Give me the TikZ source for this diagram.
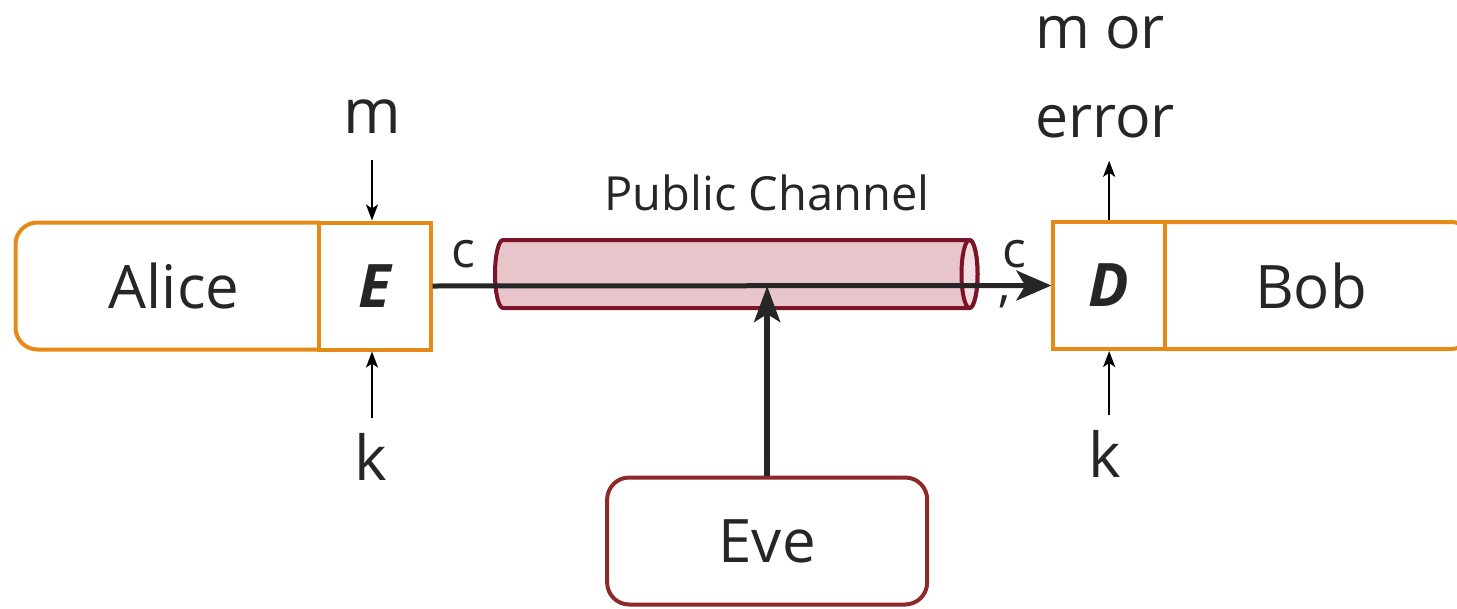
\documentclass[tikz,border=0pt]{standalone}
\usepackage{fontspec}
\setmainfont{Open Sans}
\usetikzlibrary{arrows.meta}

\definecolor{boxorange}{HTML}{E58A16}
\definecolor{ink}{HTML}{262626}
\definecolor{chanline}{HTML}{7B1426}
\definecolor{chanfill}{HTML}{E8C4CB}
\definecolor{capfill}{HTML}{F2DEE2}
\definecolor{evered}{HTML}{8E2A2A}

\begin{document}
\begin{tikzpicture}[
  x=1pt, y=1pt,
  part/.style={inner sep=0pt, outer sep=0pt, text=ink,
    font=\fontsize{60}{72}\selectfont},
  cell/.style={draw=boxorange, line width=4pt, inner sep=0pt, text=ink,
    font=\fontsize{60}{72}\selectfont\bfseries\itshape},
  outline/.style={draw=boxorange, line width=4pt, rounded corners=22pt},
  lbl/.style={inner sep=0pt, text=ink, font=\fontsize{62}{74}\selectfont},
  smalllbl/.style={inner sep=0pt, text=ink, font=\fontsize{50}{60}\selectfont},
  thinarrow/.style={draw=black, line width=2.5pt,
    -{Stealth[length=16pt, width=12pt, inset=4pt]}},
  mainarrow/.style={draw=ink, line width=5pt,
    -{Stealth[length=35pt, width=30pt, inset=9pt]}},
  evearrow/.style={draw=ink, line width=5.5pt,
    -{Stealth[length=36pt, width=26pt, inset=8pt]}}
]
\useasboundingbox (0,0) rectangle (1457,-608);

% public channel drawn as a horizontal cylinder
\path[draw=chanline, fill=chanfill, line width=4pt]
  (969.5,-240) -- (503,-240)
  arc[start angle=90, end angle=270, x radius=8pt, y radius=34pt]
  -- (969.5,-308)
  arc[start angle=270, end angle=450, x radius=8pt, y radius=34pt]
  -- cycle;
\path[draw=chanline, fill=capfill, line width=4pt]
  (969.5,-274) ellipse [x radius=8pt, y radius=34pt];
\node[inner sep=0pt, text=ink, font=\fontsize{47}{56}\selectfont, anchor=base]
  (chanlbl) at (767,-210) {Public Channel};

% Alice with her encryption box
\node[part, minimum width=303.5pt, minimum height=127pt] (alice) at (167.25,-286) {};
\node[part] (alicename) at (174,-286) {Alice};
\draw[outline] (alice.north east) -- (alice.north west)
  -- (alice.south west) -- (alice.south east);
\node[cell, minimum width=111.5pt, minimum height=127pt] (enc) at (374.75,-286) {E};

% Bob with his decryption box (runs off the right edge)
\node[part, minimum width=292pt, minimum height=127pt] (bob) at (1311,-285.5) {Bob};
\draw[outline] (bob.north west) -- ([xshift=16pt]bob.north east)
  -- ([xshift=16pt]bob.south east) -- (bob.south west);
\node[cell, minimum width=111.7pt, minimum height=127pt] (dec) at (1109.15,-285.5) {D};

% Eve
\node[draw=evered, line width=4pt, rounded corners=22pt, inner sep=0pt, text=ink,
  font=\fontsize{60}{72}\selectfont, minimum width=320pt, minimum height=127pt]
  (eve) at (767.15,-541) {Eve};

% inputs and outputs
\node[lbl, anchor=base] (m) at (372,-133) {m};
\node[lbl, anchor=base] (k1) at (371,-480) {k};
\node[lbl, anchor=base] (k2) at (1105,-477) {k};
\node[lbl, anchor=base west, font=\fontsize{59}{70}\selectfont] (out1) at (1035,-48) {m or};
\node[lbl, anchor=base west, font=\fontsize{59}{70}\selectfont] (out2) at (1035,-137) {error};
\node[smalllbl, anchor=base] (c1) at (463,-267) {c};
\node[smalllbl, anchor=base] (c2) at (1014,-267) {c};
\node[smalllbl, anchor=base] (comma) at (1005,-301) {,};

\draw[thinarrow, shorten <=27pt] (m.south) -- (m.south |- enc.north);
\draw[thinarrow, shorten <=15pt] (m.south |- k1.north) -- (m.south |- enc.south);
\draw[thinarrow, shorten >=23pt] (dec.north) -- (dec.north |- out2.south);
\draw[thinarrow, shorten <=15pt] (dec.south |- k2.north) -- (dec.south);

% ciphertext over the channel, and Eve tapping it
\draw[mainarrow] (enc.east) -- (dec.west);
\draw[evearrow] (eve.north) -- (eve.north |- enc.east);
\end{tikzpicture}
\end{document}
